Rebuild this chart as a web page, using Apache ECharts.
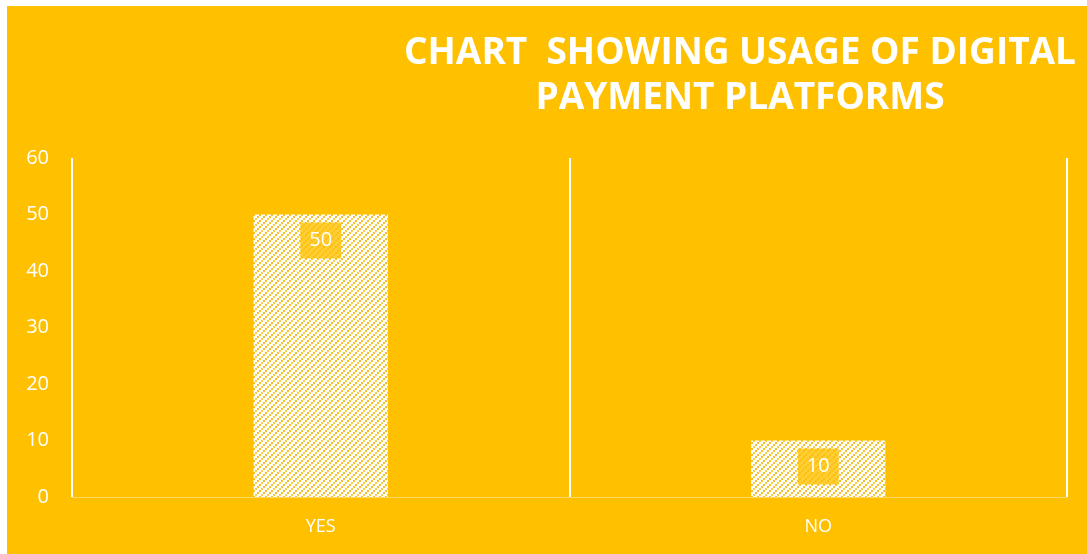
<!DOCTYPE html>
<html>
<head>
<meta charset="utf-8">
<script src="https://cdn.jsdelivr.net/npm/echarts@6/dist/echarts.min.js"></script>
<style>
  html, body { margin: 0; padding: 0; background: #ffffff; }
  #chart { position: absolute; left: 7px; top: 6px; width: 1080px; height: 548px; }
</style>
</head>
<body>
<div id="chart"></div>
<script>
// Survey answers and counts
const categories = ['YES', 'NO'];
const counts = [50, 10];
const yTicks = { min: 0, max: 60, interval: 10 };
const titleText = 'CHART  SHOWING USAGE OF DIGITAL\nPAYMENT PLATFORMS';

// Dotted upward-diagonal fill for the bars
function makeDotPattern() {
  const c = document.createElement('canvas');
  c.width = 6; c.height = 6;
  const g = c.getContext('2d');
  g.fillStyle = '#fffdf5';
  g.fillRect(0, 0, 6, 6);
  const dots = [[0, 4], [2, 2], [4, 0]];
  dots.forEach(([x, y], i) => {
    g.fillStyle = i === 1 ? '#f9cf4a' : '#f2c030';
    g.fillRect(x, y, 2, 2);
  });
  return c;
}

const chart = echarts.init(document.getElementById('chart'));
chart.setOption({
  backgroundColor: '#FFC000',
  animation: false,
  title: {
    text: titleText,
    left: 728,
    top: 20,
    textAlign: 'center',
    textStyle: {
      color: '#ffffff',
      fontFamily: 'Open Sans',
      fontWeight: 'bold',
      fontSize: 37,
      lineHeight: 45
    }
  },
  grid: { left: 65, right: 20, top: 152, bottom: 57 },
  xAxis: {
    type: 'category',
    data: categories,
    axisLine: { show: true, lineStyle: { color: '#ffd966', width: 1 } },
    axisTick: { show: false },
    splitLine: { show: true, lineStyle: { color: '#ffffff', width: 2 } },
    axisLabel: { color: '#ffffff', fontFamily: 'Open Sans', fontSize: 18, margin: 21 }
  },
  yAxis: {
    type: 'value',
    min: yTicks.min,
    max: yTicks.max,
    interval: yTicks.interval,
    axisLine: { show: false },
    axisTick: { show: false },
    splitLine: { show: false },
    axisLabel: { color: '#ffffff', fontFamily: 'Open Sans', fontSize: 20, margin: 23 }
  },
  series: [{
    type: 'bar',
    data: counts,
    barWidth: '27%',
    itemStyle: { color: { image: makeDotPattern(), repeat: 'repeat' } },
    label: {
      show: true,
      position: 'insideTop',
      distance: 8,
      color: '#ffffff',
      fontFamily: 'Open Sans',
      fontSize: 20,
      backgroundColor: 'rgba(255,192,0,0.78)',
      padding: [8, 9]
    }
  }]
});
</script>
</body>
</html>
